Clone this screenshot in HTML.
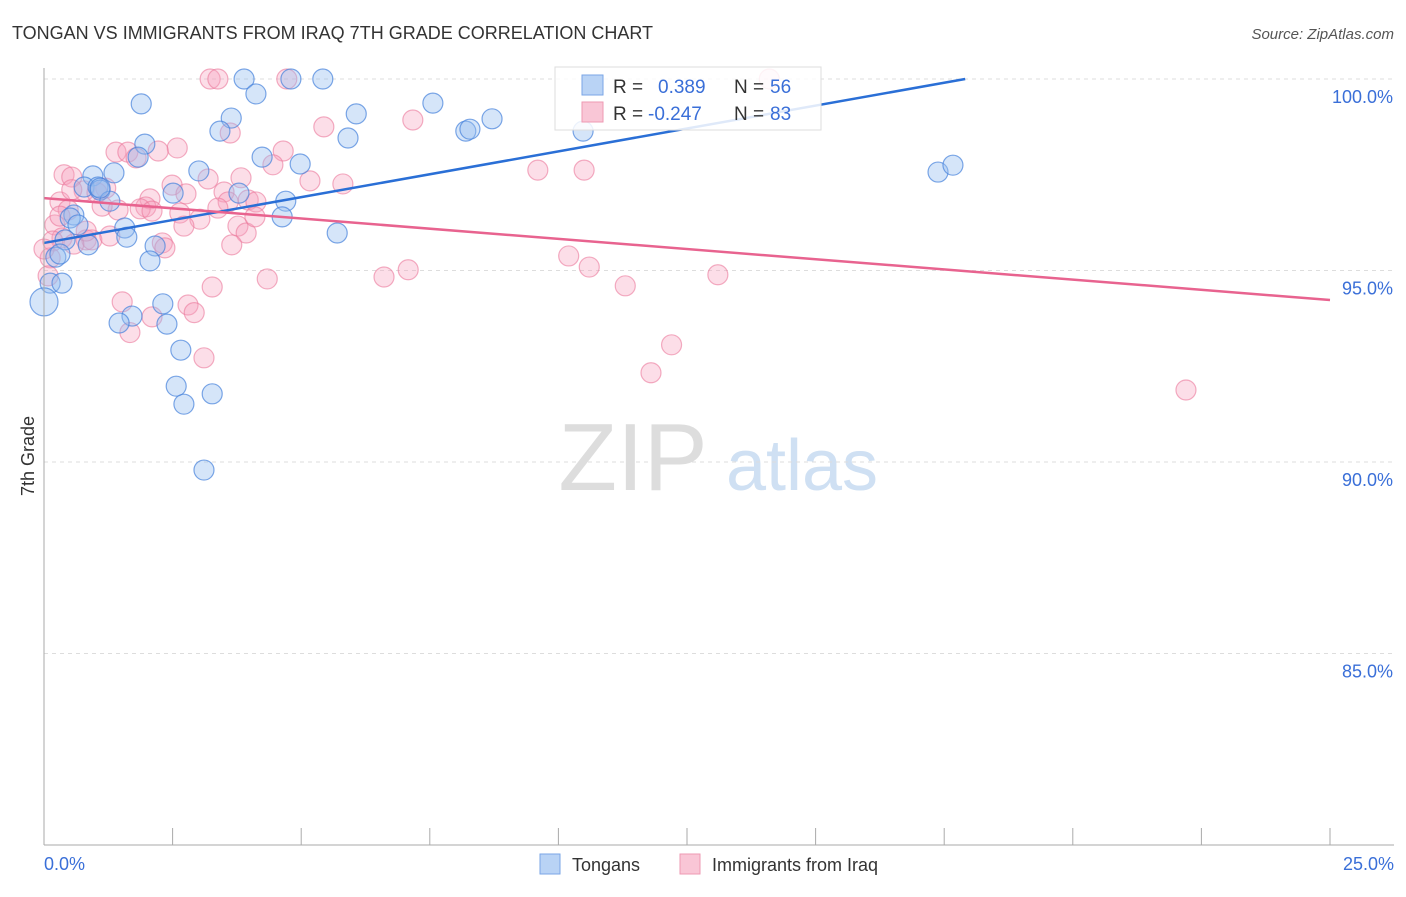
<!DOCTYPE html>
<html><head><meta charset="utf-8"><style>
body{margin:0;background:#fff;font-family:"Liberation Sans",sans-serif;}
svg text{font-family:"Liberation Sans",sans-serif;}
</style></head><body>
<svg id="chart" width="1406" height="892">
<text x="12" y="39" font-size="18" fill="#333">TONGAN VS IMMIGRANTS FROM IRAQ 7TH GRADE CORRELATION CHART</text>
<text x="1394" y="39" font-size="15" fill="#555" font-style="italic" text-anchor="end">Source: ZipAtlas.com</text>
<text transform="translate(34,456) rotate(-90)" font-size="18" fill="#333" text-anchor="middle">7th Grade</text>
<g><text x="633" y="490" font-size="96" fill="#ddd" font-family="Liberation Serif" text-anchor="middle">ZIP</text><text x="802" y="490" font-size="72" fill="#cfe0f3" text-anchor="middle">atlas</text></g>
<g id="grid"></g><g id="pts"></g><g id="lines"></g>
<line x1="44" y1="68" x2="44" y2="845" stroke="#aaa"/>
<line x1="44" y1="845" x2="1394" y2="845" stroke="#aaa"/>
<g id="xt"></g>
<text x="44" y="870" font-size="18" fill="#3a6fd8">0.0%</text>
<text x="1394" y="870" font-size="18" fill="#3a6fd8" text-anchor="end">25.0%</text>
<g>
<rect x="555" y="67" width="266" height="63" fill="rgba(255,255,255,0.85)" stroke="#ddd"/>
<rect x="582" y="75" width="21" height="20" fill="#b9d3f5" stroke="#7aa6e6"/>
<rect x="582" y="102" width="21" height="20" fill="#f9c6d6" stroke="#ee99b3"/>
<text x="613" y="93" font-size="19" fill="#333">R =</text><text x="658" y="93" font-size="19" fill="#3a6fd8">0.389</text>
<text x="734" y="93" font-size="19" fill="#333">N =</text><text x="770" y="93" font-size="19" fill="#3a6fd8">56</text>
<text x="613" y="120" font-size="19" fill="#333">R =</text><text x="648" y="120" font-size="19" fill="#3a6fd8">-0.247</text>
<text x="734" y="120" font-size="19" fill="#333">N =</text><text x="770" y="120" font-size="19" fill="#3a6fd8">83</text>
</g>
<g>
<rect x="540" y="854" width="20" height="20" fill="#b9d3f5" stroke="#7aa6e6"/>
<text x="572" y="871" font-size="18" fill="#333">Tongans</text>
<rect x="680" y="854" width="20" height="20" fill="#f9c6d6" stroke="#ee99b3"/>
<text x="712" y="871" font-size="18" fill="#333">Immigrants from Iraq</text>
</g>
</svg>
<script>
const yTicks=[100,95,90,85];
const yTickLabels=["100.0%","95.0%","90.0%","85.0%"];
const xTicks=[0,2.5,5,7.5,10,12.5,15,17.5,20,22.5,25];
const blueX=[1.89,3.89,4.80,5.42,4.12,3.64,3.42,6.07,5.91,7.56,8.20,8.28,8.71,10.48,1.96,1.83,4.24,4.98,3.01,1.36,0.95,0.78,1.05,1.09,2.51,3.79,1.28,4.70,4.63,0.58,0.51,1.57,0.66,1.61,0.86,0.41,2.16,5.70,2.06,0.23,0.12,0.35,0,2.31,1.71,1.46,2.39,2.66,2.57,2.72,3.27,3.11,17.38,17.67,1.09,0.31];
const blueY=[99.35,100,100,100,99.61,98.98,98.64,99.09,98.46,99.37,98.64,98.69,98.96,98.64,98.30,97.96,97.96,97.78,97.60,97.55,97.47,97.18,97.18,97.10,97.02,97.02,96.81,96.81,96.40,96.45,96.37,96.11,96.19,95.87,95.67,95.80,95.64,95.98,95.25,95.35,94.67,94.67,94.18,94.13,93.81,93.63,93.60,92.92,91.98,91.51,91.78,89.79,97.57,97.75,97.15,95.43];
const pinkX=[3.23,3.38,4.72,14.1,5.44,7.17,3.62,2.59,2.22,1.4,1.63,4.65,4.45,1.79,0.39,0.54,1.2,0.78,2.49,3.19,3.83,5.17,5.81,9.6,10.5,2.76,3.5,3.58,3.38,3.97,4.12,2.06,1.98,1.87,2.1,2.64,1.44,1.13,0.31,0.47,0.21,0.35,0.17,0.82,0.93,1.28,3.03,2.72,3.77,3.93,4.1,3.65,2.3,2.35,0.58,0.12,0,0.08,4.34,6.61,7.08,10.2,10.6,11.3,13.1,3.27,1.52,2.1,2.8,2.92,1.67,3.11,12.2,11.8,22.2,1.03,0.31,0.54,0.82];
const pinkY=[100,100,100,100,98.75,98.93,98.59,98.2,98.12,98.09,98.09,98.12,97.76,97.94,97.5,97.44,97.15,97.08,97.23,97.39,97.42,97.34,97.26,97.62,97.62,97.0,97.05,96.79,96.63,96.84,96.79,96.87,96.66,96.61,96.55,96.5,96.58,96.68,96.79,96.58,96.19,95.85,95.77,95.8,95.8,95.9,96.34,96.16,96.16,95.98,96.4,95.67,95.72,95.59,95.69,95.33,95.56,94.86,94.78,94.83,95.02,95.38,95.09,94.6,94.89,94.57,94.18,93.79,94.1,93.9,93.38,92.72,93.06,92.33,91.88,97.03,96.42,97.11,96.03];
const blueLine=[95.72,0.239];
const pinkLine=[96.89,-0.1064];
const X=v=>44+v/25*1286, Y=v=>79+(100-v)*38.3;
const ns="http://www.w3.org/2000/svg";
function mk(t,a,p){const e=document.createElementNS(ns,t);for(const k in a)e.setAttribute(k,a[k]);p.appendChild(e);return e;}
const grid=document.getElementById('grid');
yTicks.forEach((t,i)=>{
 const l=mk('line',{x1:44,x2:1394,y1:Y(t),y2:Y(t),stroke:'#ddd','stroke-dasharray':'4,4'},grid);
 
 
 const tx=mk('text',{x:1393,y:Y(t)+24,'font-size':18,fill:'#3a6fd8','text-anchor':'end'},grid);
 tx.textContent=yTickLabels[i];
 
 
});
const xt=document.getElementById('xt');
xTicks.forEach(t=>{
 const l=mk('line',{x1:X(t),x2:X(t),y1:828,y2:845,stroke:'#aaa'},xt);
 
 
});
const pts=document.getElementById('pts');
pinkX.forEach((x,i)=>{
 const c=mk('circle',{cx:X(x),cy:Y(pinkY[i]),r:10,fill:'rgba(245,160,190,0.35)',stroke:'rgba(235,120,155,0.6)','stroke-width':1.2},pts);
 
 
});
blueX.forEach((x,i)=>{
 const c=mk('circle',{cx:X(x),cy:Y(blueY[i]),r:i==42?14:10,fill:'rgba(150,190,240,0.4)',stroke:'rgba(70,130,220,0.7)','stroke-width':1.2},pts);
 
 
});
const lines=document.getElementById('lines');
const bEnd=(100-blueLine[0])/blueLine[1];
const bl=mk('line',{x1:X(0),y1:Y(blueLine[0]),x2:X(bEnd),y2:Y(100),stroke:'#2a6fd6','stroke-width':2.5},lines);


const pl=mk('line',{x1:X(0),y1:Y(pinkLine[0]),x2:X(25),y2:Y(pinkLine[0]+25*pinkLine[1]),stroke:'#e8638f','stroke-width':2.5},lines);


</script>
</body></html>
